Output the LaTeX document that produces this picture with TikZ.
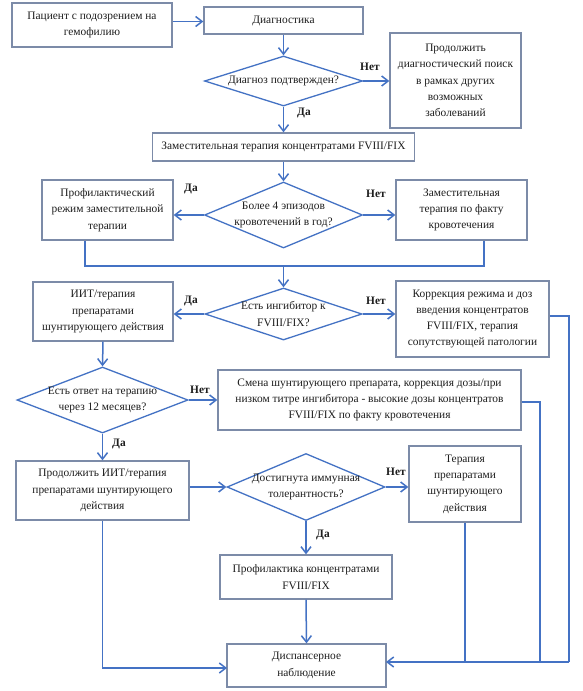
\documentclass[tikz,border=0pt]{standalone}
\usepackage{fontspec}
\setmainfont{Liberation Serif}
\usetikzlibrary{shapes.geometric,arrows.meta}
\definecolor{lblue}{RGB}{68,114,196}
\definecolor{bord}{RGB}{124,139,168}
\definecolor{txt}{RGB}{30,30,30}
\begin{document}
\begin{tikzpicture}[x=1pt,y=-1pt,
  font=\fontsize{11.4}{16.3}\selectfont,
  box/.style={draw=bord, line width=1.3pt, fill=white, align=center, inner sep=0pt, text=txt},
  dia/.style={draw=lblue, diamond, line width=1.3pt, inner sep=0pt},
  dlab/.style={align=center, text=txt},
  conn/.style={draw=lblue, line width=1.5pt},
  arr/.style={conn, -{Straight Barb[length=6.5pt,width=10pt]}},
  yn/.style={font=\fontsize{11.4}{13}\selectfont\bfseries, text=txt}]
\useasboundingbox[fill=white] (0,0) rectangle (583,691);

% boxes
\node[box, minimum width=160pt, minimum height=44pt] (b1) at (92,25) {Пациент с подозрением на\\гемофилию};
\node[box, minimum width=159pt, minimum height=27pt] (b2) at (283.5,20.5) {Диагностика};
\node[dia, minimum width=158pt, minimum height=50pt, label={[dlab]center:Диагноз подтвержден?}] (d1) at (283.5,81) {};
\node[box, minimum width=131pt, minimum height=95pt] (b3) at (455.5,80.5) {Продолжить\\диагностический поиск\\в рамках других\\возможных\\заболеваний};
\node[box, minimum width=262pt, minimum height=28pt] (b4) at (283.5,147) {Заместительная терапия концентратами FVIII/FIX};
\node[dia, minimum width=158pt, minimum height=66pt, label={[dlab]center:{Более 4 эпизодов\\кровотечений в год?}}] (d2) at (283.5,215) {};
\node[box, minimum width=131pt, minimum height=60pt] (b5) at (107.5,210) {Профилактический\\режим заместительной\\терапии};
\node[box, minimum width=131pt, minimum height=60pt] (b6) at (461.5,210) {Заместительная\\терапия по факту\\кровотечения};
\node[dia, minimum width=157pt, minimum height=52pt, label={[dlab]center:{Есть ингибитор к\\FVIII/FIX?}}] (d3) at (283.5,314) {};
\node[box, minimum width=140pt, minimum height=59pt] (b7) at (103,311.5) {ИИТ/терапия\\препаратами\\шунтирующего действия};
\node[box, minimum width=153pt, minimum height=76pt] (b8) at (472.5,319) {Коррекция режима и доз\\введения концентратов\\FVIII/FIX, терапия\\сопутствующей патологии};
\node[dia, minimum width=171pt, minimum height=66pt, label={[dlab]center:{Есть ответ на терапию\\через 12 месяцев?}}] (d4) at (102.5,400) {};
\node[box, minimum width=303pt, minimum height=60pt] (b9) at (369.5,400) {Смена шунтирующего препарата, коррекция дозы/при\\низком титре ингибитора - высокие дозы концентратов\\FVIII/FIX по факту кровотечения};
\node[box, minimum width=173pt, minimum height=59pt] (b10) at (102.5,490.5) {Продолжить ИИТ/терапия\\препаратами шунтирующего\\действия};
\node[dia, minimum width=158pt, minimum height=67pt, label={[dlab]center:{Достигнута иммунная\\толерантность?}}] (d5) at (306,487) {};
\node[box, minimum width=112pt, minimum height=76pt] (b11) at (465,484) {Терапия\\препаратами\\шунтирующего\\действия};
\node[box, minimum width=172pt, minimum height=44pt] (b12) at (306,577) {Профилактика концентратами\\FVIII/FIX};
\node[box, minimum width=159pt, minimum height=43pt] (b13) at (306.5,665.5) {Диспансерное\\наблюдение};

% helper coordinates
\coordinate (m1) at (85,266);
\coordinate (m2) at (484,266);
\coordinate (c8) at (569,316);
\coordinate (c9) at (540,402);
\coordinate (bj) at (386,662);
\coordinate (bl) at (227,668);

% connectors
\draw[arr] (b1.east |- 0,21.5) -- (b2.west |- 0,21.5);
\draw[arr] (b2.south) -- (d1.north);
\draw[arr] (d1.east) -- (d1.east -| b3.west);
\draw[arr] (d1.south) -- (b4.north);
\draw[arr] (b4.south) -- (d2.north);
\draw[arr] (d2.west) -- (d2.west -| b5.east);
\draw[arr] (d2.east) -- (d2.east -| b6.west);
\draw[conn] (b5.south -| m1) -- (m1) -- (m2) -- (b6.south -| m2);
\draw[arr] (d3.north |- m1) -- (d3.north);
\draw[arr] (d3.west) -- (d3.west -| b7.east);
\draw[arr] (d3.east) -- (d3.east -| b8.west);
\draw[arr] (b7.south) -- (d4.north);
\draw[arr] (d4.east) -- (d4.east -| b9.west);
\draw[arr] (d4.south) -- (b10.north);
\draw[arr] (b10.east |- d5.west) -- (d5.west);
\draw[arr] (d5.east) -- (d5.east -| b11.west);
\draw[arr] (d5.south) -- (b12.north);
\draw[arr] (b12.south) -- (b13.north);
\draw[arr] (b10.south) |- (bl);
\draw[conn] (b8.east |- c8) -- (c8) -- (c8 |- bj);
\draw[conn] (b9.east |- c9) -- (c9) -- (c9 |- bj);
\draw[conn] (b11.south) -- (b11.south |- bj);
\draw[arr] (c8 |- bj) -- (bj);

% yes/no labels
\node[yn] (l1) at (370,67) {Нет};
\node[yn] (l2) at (304,113) {Да};
\node[yn] (l3) at (191,189) {Да};
\node[yn] (l4) at (376,194) {Нет};
\node[yn] (l5) at (191,301) {Да};
\node[yn] (l6) at (376,301) {Нет};
\node[yn] (l7) at (200,390) {Нет};
\node[yn] (l8) at (119,444) {Да};
\node[yn] (l9) at (396,472) {Нет};
\node[yn] (l10) at (323,535) {Да};
\end{tikzpicture}
\end{document}
